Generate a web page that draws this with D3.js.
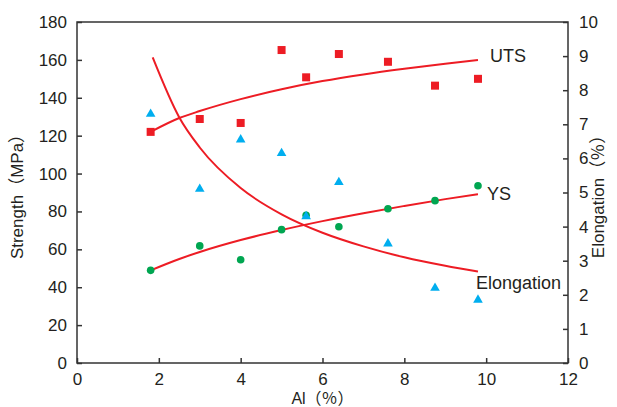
<!DOCTYPE html>
<html lang="en">
<head>
  <meta charset="UTF-8">
  <title>Strength and Elongation vs Al</title>
  <style>
    body { margin: 0; background: #fff; }
    text { font-family: "Liberation Sans", Arial, "Noto Sans CJK SC", sans-serif; fill: #231f20; }
  </style>
</head>
<body>
  <svg id="svg" width="617" height="407"></svg>

  <script src="https://d3js.org/d3.v7.min.js"></script>
  <script>
    // measured points
    const al = [1.8, 3.0, 4.0, 5.0, 5.6, 6.4, 7.6, 8.75, 9.8]
    const uts = [122, 128.8, 126.7, 165.2, 150.8, 163.1, 159, 146.4, 150]
    const ys = [48.9, 61.8, 54.5, 70.4, 78, 71.9, 81.4, 85.7, 93.6]
    const elong = [7.3, 5.1, 6.55, 6.15, 4.3, 5.3, 3.5, 2.2, 1.85]

    // fitted trend curves
    const fitAl = [1.8, 2.5, 3, 4, 5, 6, 7, 8, 9, 9.8]
    const utsFit = [122, 129.3, 133, 139.3, 144.5, 148.8, 152.3, 155.3, 158, 160]
    const ysFit = [48.9, 54.9, 58.6, 64.9, 70.2, 74.9, 79.1, 82.9, 86.5, 89.1]
    const elongAl = [1.85, 2.5, 3, 4, 5, 6, 7, 8, 9, 9.8]
    const elongFit = [8.96, 7.2, 6.32, 5.13, 4.36, 3.82, 3.42, 3.1, 2.85, 2.68]

    const xTicks = [0, 2, 4, 6, 8, 10, 12]
    const yTicks = [0, 20, 40, 60, 80, 100, 120, 140, 160, 180]
    const y2Ticks = [0, 1, 2, 3, 4, 5, 6, 7, 8, 9, 10]

    const mLeft = 77, mRight = 568, mTop = 22, mBottom = 363
    const red = '#ed1c24', green = '#00a651', blue = '#00aeef'

    const x = d3.scaleLinear().domain([0, 12]).range([mLeft, mRight])
    const y = d3.scaleLinear().domain([0, 180]).range([mBottom, mTop])
    const y2 = d3.scaleLinear().domain([0, 10]).range([mBottom, mTop])

    const svg = d3.select('#svg')

    // frame
    svg.append('rect')
      .attr('x', mLeft).attr('y', mTop)
      .attr('width', mRight - mLeft).attr('height', mBottom - mTop)
      .attr('fill', 'none').attr('stroke', '#333').attr('stroke-width', 1.5)

    const styleAxis = g => {
      g.select('.domain').remove()
      g.selectAll('.tick line').attr('stroke', '#333').attr('stroke-width', 1.5)
      g.selectAll('.tick text').attr('font-size', 17).attr('fill', '#231f20')
        .style('font-family', '"Liberation Sans", Arial, sans-serif')
    }

    svg.append('g')
      .attr('transform', `translate(0,${mBottom})`)
      .call(d3.axisBottom(x).tickValues(xTicks).tickSize(-5).tickPadding(10))
      .call(styleAxis)

    svg.append('g')
      .attr('transform', `translate(${mLeft},0)`)
      .call(d3.axisLeft(y).tickValues(yTicks).tickSize(-5).tickPadding(10))
      .call(styleAxis)

    svg.append('g')
      .attr('transform', `translate(${mRight},0)`)
      .call(d3.axisRight(y2).tickValues(y2Ticks).tickSize(-5).tickPadding(11))
      .call(styleAxis)

    // curves
    const line = (xs, vs, sc) => d3.line()
      .x((d, i) => x(xs[i]))
      .y(d => sc(d))
      .curve(d3.curveMonotoneX)(vs)

    svg.append('path').attr('d', line(fitAl, utsFit, y))
      .attr('fill', 'none').attr('stroke', red).attr('stroke-width', 2)
    svg.append('path').attr('d', line(fitAl, ysFit, y))
      .attr('fill', 'none').attr('stroke', red).attr('stroke-width', 2)
    svg.append('path').attr('d', line(elongAl, elongFit, y2))
      .attr('fill', 'none').attr('stroke', red).attr('stroke-width', 2)

    // markers
    svg.selectAll('.uts').data(uts).enter().append('rect')
      .attr('x', (d, i) => x(al[i]) - 4)
      .attr('y', d => y(d) - 4)
      .attr('width', 8).attr('height', 8)
      .attr('fill', red)

    svg.selectAll('.ys').data(ys).enter().append('circle')
      .attr('cx', (d, i) => x(al[i]))
      .attr('cy', d => y(d))
      .attr('r', 3.8)
      .attr('fill', green)

    const tri = d3.symbol().type(d3.symbolTriangle).size(40)
    svg.selectAll('.el').data(elong).enter().append('path')
      .attr('d', tri)
      .attr('transform', (d, i) => `translate(${x(al[i])},${y2(d)})`)
      .attr('fill', blue)

    // series labels
    svg.append('text').attr('x', 490).attr('y', 62).attr('font-size', 18).text('UTS')
    svg.append('text').attr('x', 487).attr('y', 200).attr('font-size', 18).text('YS')
    svg.append('text').attr('x', 476).attr('y', 289).attr('font-size', 18).text('Elongation')

    // axis titles
    svg.append('text')
      .attr('transform', `translate(23,${(mTop + mBottom) / 2}) rotate(-90)`)
      .attr('text-anchor', 'middle').attr('font-size', 17)
      .text('Strength（MPa）')

    svg.append('text')
      .attr('transform', `translate(604,${(mTop + mBottom) / 2}) rotate(-90)`)
      .attr('text-anchor', 'middle').attr('font-size', 17)
      .text('Elongation（％）')

    svg.append('text')
      .attr('x', (mLeft + mRight) / 2).attr('y', 404)
      .attr('text-anchor', 'middle').attr('font-size', 16)
      .text('Al（％）')
  </script>
</body>
</html>
